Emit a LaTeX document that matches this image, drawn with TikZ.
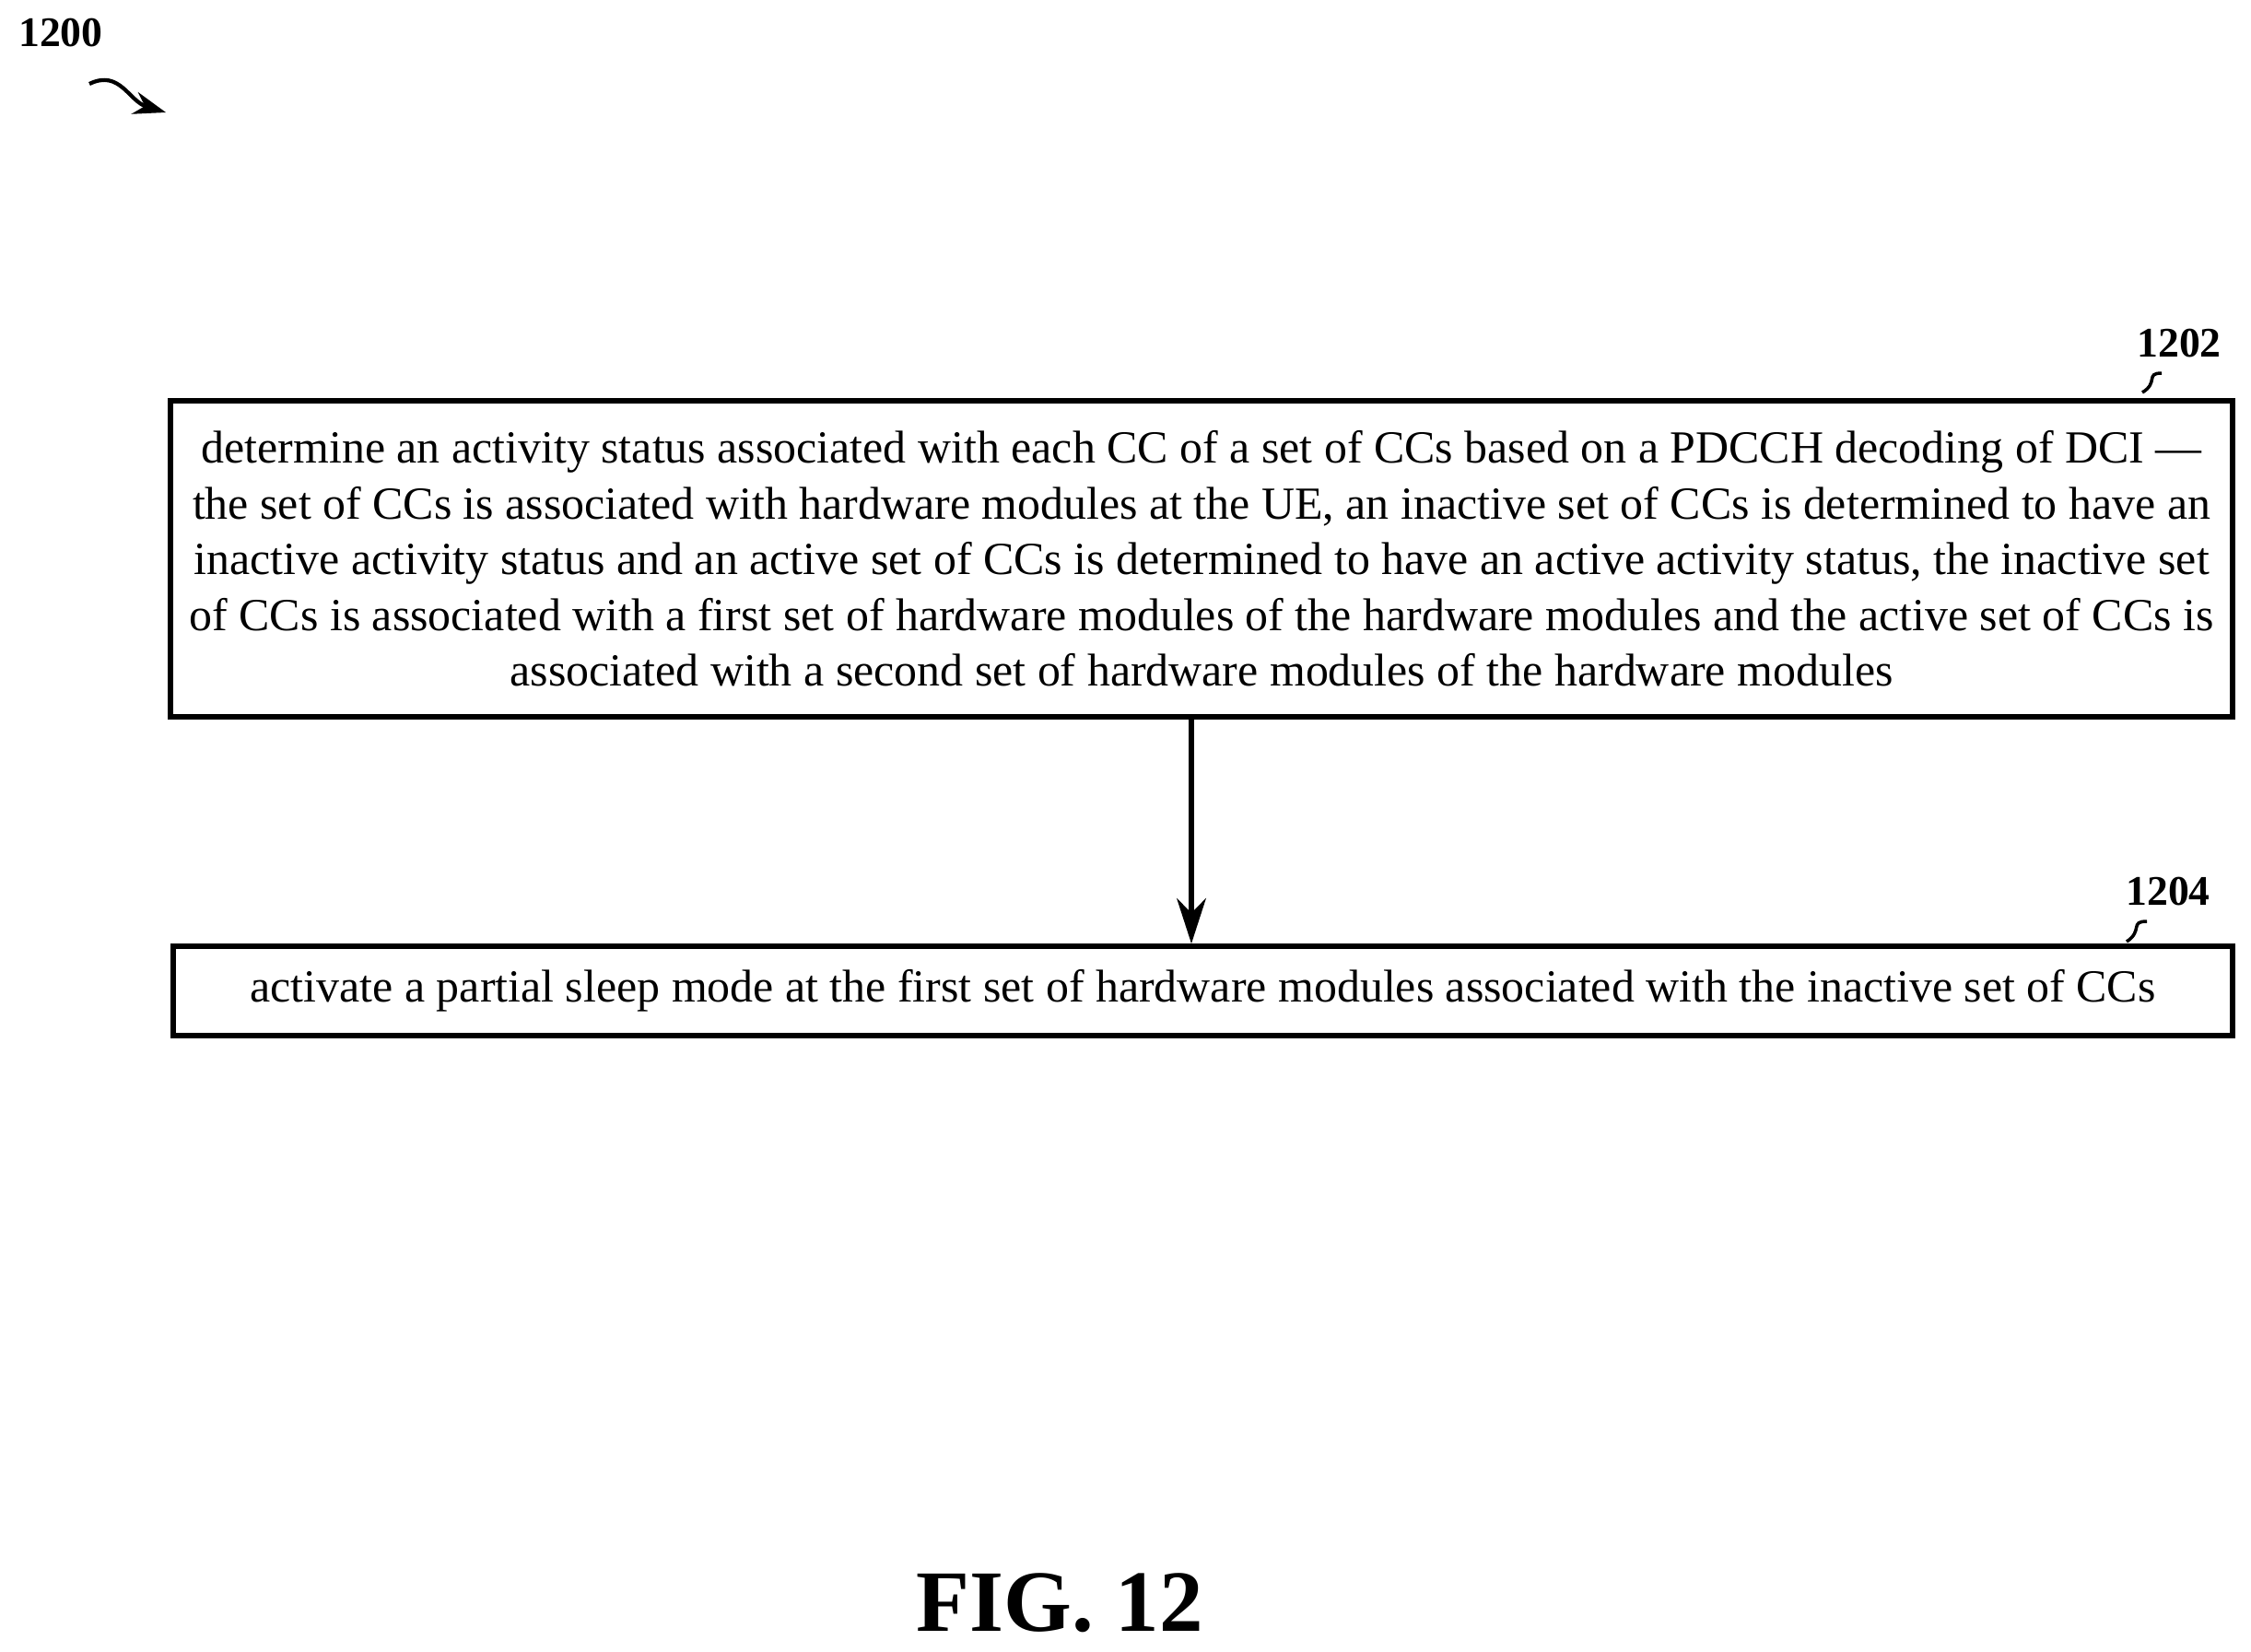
\documentclass[tikz,border=0pt]{standalone}
\usepackage{fontspec}
\setmainfont{Liberation Serif}
\usetikzlibrary{positioning,arrows.meta}
\tikzset{
  stepbox/.style={draw,line width=1.6pt,align=center,inner sep=0pt,
    font=\fontsize{14.2}{17.2}\selectfont},
  reflabel/.style={font=\fontsize{13}{15}\selectfont\bfseries},
  flow/.style={-{Stealth[length=14pt,width=9pt]},line width=1.6pt}
}
\begin{document}
\begin{tikzpicture}
\useasboundingbox (0,0) rectangle (24.43,-17.92);
% steps
\node[stepbox,minimum width=22.38cm,minimum height=3.43cm] (s1) at (13.04,-6.065)
 {determine an activity status associated with each CC of a set of CCs based on a PDCCH decoding of DCI ---\\
 the set of CCs is associated with hardware modules at the UE, an inactive set of CCs is determined to have an\\
 inactive activity status and an active set of CCs is determined to have an active activity status, the inactive set\\
 of CCs is associated with a first set of hardware modules of the hardware modules and the active set of CCs is\\
 associated with a second set of hardware modules of the hardware modules};
\node[stepbox,minimum width=22.35cm,minimum height=0.97cm] (s2) at (13.055,-10.755)
 {activate a partial sleep mode at the first set of hardware modules associated with the inactive set of CCs};
\draw[flow] (s1.south -| 12.93,0) -- (s2.north -| 12.93,0);
% reference numerals
\node[reflabel] (n1202) at (23.65,-3.73) {1202};
\draw[line width=1pt] (23.25,-4.26) .. controls (23.43,-4.15) and (23.28,-4.05) .. (23.46,-4.05);
\node[reflabel] (n1204) at (23.53,-9.68) {1204};
\draw[line width=1pt] (23.08,-10.22) .. controls (23.26,-10.1) and (23.11,-10.0) .. (23.3,-10.0);
\node[reflabel] (n1200) at (0.66,-0.36) {1200};
\coordinate (tip) at (1.8,-1.22);
\draw[-{Stealth[length=10pt,width=7pt]},line width=1.2pt] (0.97,-0.91) .. controls (1.3,-0.75) and (1.4,-1.1) .. (tip);
\node[font=\fontsize{27}{32}\selectfont\bfseries] (fig) at (11.5,-17.4) {FIG. 12};
\end{tikzpicture}
\end{document}
